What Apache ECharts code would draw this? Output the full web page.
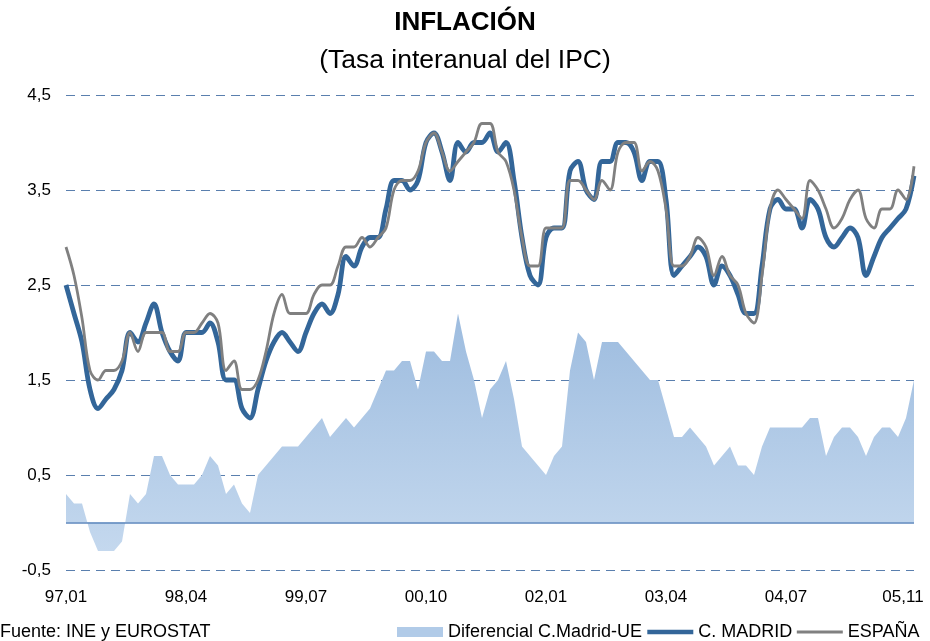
<!DOCTYPE html>
<html>
<head>
<meta charset="utf-8">
<title>Inflación</title>
<script src="https://cdn.jsdelivr.net/npm/echarts@6/dist/echarts.min.js"></script>
<style>
  html, body { margin: 0; padding: 0; background: #fff; }
  #main { width: 930px; height: 641px; }
</style>
</head>
<body>
<div id="main"></div>
<script>
// meses 97.01 .. 05.11
var meses = [];
for (var y = 1997; y <= 2005; y++) {
  for (var m = 1; m <= 12; m++) {
    if (y === 2005 && m > 11) break;
    meses.push(String(y).slice(2) + "." + (m < 10 ? "0" + m : m));
  }
}

// etiquetas visibles
var xTickLabels = ["97,01", "98,04", "99,07", "00,10", "02,01", "03,04", "04,07", "05,11"];
var yTickLabels = ["-0,5", "0,5", "1,5", "2,5", "3,5", "4,5"];

// Diferencial C.Madrid-UE
var diferencial = [
  0.3, 0.2, 0.2, -0.1, -0.3, -0.3, -0.3, -0.2, 0.3, 0.2,
  0.3, 0.7, 0.7, 0.5, 0.4, 0.4, 0.4, 0.5, 0.7, 0.6,
  0.3, 0.4, 0.2, 0.1, 0.5, 0.6, 0.7, 0.8, 0.8, 0.8,
  0.9, 1.0, 1.1, 0.9, 1.0, 1.1, 1.0, 1.1, 1.2, 1.4,
  1.6, 1.6, 1.7, 1.7, 1.4, 1.8, 1.8, 1.7, 1.7, 2.2,
  1.8, 1.5, 1.1, 1.4, 1.5, 1.7, 1.3, 0.8, 0.7, 0.6,
  0.5, 0.7, 0.8, 1.6, 2.0, 1.9, 1.5, 1.9, 1.9, 1.9,
  1.8, 1.7, 1.6, 1.5, 1.5, 1.2, 0.9, 0.9, 1.0, 0.9,
  0.8, 0.6, 0.7, 0.8, 0.6, 0.6, 0.5, 0.8, 1.0, 1.0,
  1.0, 1.0, 1.0, 1.1, 1.1, 0.7, 0.9, 1.0, 1.0, 0.9,
  0.7, 0.9, 1.0, 1.0, 0.9, 1.1, 1.5
];

// C. MADRID
var madrid = [
  2.5, 2.2, 1.9, 1.4, 1.2, 1.3, 1.4, 1.6, 2.0, 1.9,
  2.1, 2.3, 2.0, 1.8, 1.7, 2.0, 2.0, 2.0, 2.1, 1.9,
  1.5, 1.5, 1.2, 1.1, 1.4, 1.7, 1.9, 2.0, 1.9, 1.8,
  2.0, 2.2, 2.3, 2.2, 2.4, 2.8, 2.7, 2.9, 3.0, 3.0,
  3.3, 3.6, 3.6, 3.5, 3.6, 4.0, 4.1, 3.9, 3.6, 4.0,
  3.9, 4.0, 4.0, 4.1, 3.9, 4.0, 3.6, 3.0, 2.6, 2.5,
  3.0, 3.1, 3.1, 3.7, 3.8, 3.5, 3.4, 3.8, 3.8, 4.0,
  4.0, 3.9, 3.6, 3.8, 3.8, 3.4, 2.6, 2.7, 2.8, 2.9,
  2.8, 2.5, 2.7, 2.6, 2.4, 2.2, 2.2, 2.7, 3.3, 3.4,
  3.3, 3.3, 3.1, 3.4, 3.3, 3.0, 2.9, 3.0, 3.1, 3.0,
  2.6, 2.8, 3.0, 3.1, 3.2, 3.3, 3.65
];

// ESPAÑA
var espana = [
  2.9, 2.6, 2.15, 1.6, 1.5, 1.6, 1.6, 1.7, 2.0, 1.8,
  2.0, 2.0, 2.0, 1.8, 1.8, 2.0, 2.0, 2.1, 2.2, 2.1,
  1.6, 1.7, 1.4, 1.4, 1.5, 1.8, 2.2, 2.4, 2.2, 2.2,
  2.2, 2.4, 2.5, 2.5, 2.7, 2.9, 2.9, 3.0, 2.9, 3.0,
  3.1, 3.5, 3.6, 3.6, 3.7, 4.0, 4.1, 3.9, 3.7, 3.8,
  3.9, 4.0, 4.2, 4.2, 3.9, 3.8, 3.5, 3.0, 2.7, 2.7,
  3.1, 3.1, 3.1, 3.6, 3.6, 3.5, 3.4, 3.6, 3.5, 3.9,
  4.0, 4.0, 3.7, 3.8, 3.7, 3.3, 2.7, 2.7, 2.8, 3.0,
  2.9, 2.6, 2.8, 2.6, 2.5, 2.2, 2.1, 2.6, 3.3, 3.5,
  3.4, 3.3, 3.2, 3.6, 3.5, 3.3, 3.1, 3.2, 3.4, 3.5,
  3.2, 3.1, 3.3, 3.3, 3.5, 3.4, 3.75
];

var fuente = "'Liberation Sans', Arial, sans-serif";

function coma(v) {
  return String(v).replace(".", ",");
}

var myChart = echarts.init(document.getElementById("main"));

var option = {
  animation: false,
  backgroundColor: "#ffffff",
  textStyle: { fontFamily: fuente, color: "#000" },
  title: [
    {
      text: "INFLACIÓN",
      left: "center",
      top: 10,
      padding: 0,
      textStyle: { fontSize: 26, fontWeight: "bold", color: "#000", fontFamily: fuente },
    },
    {
      text: "(Tasa interanual del IPC)",
      left: "center",
      top: 47,
      padding: 0,
      textStyle: { fontSize: 26.5, fontWeight: "normal", color: "#000", fontFamily: fuente },
    },
    {
      text: "Fuente: INE y EUROSTAT",
      left: 0,
      top: 623,
      padding: 0,
      textStyle: { fontSize: 18, fontWeight: "normal", color: "#000", fontFamily: fuente },
    },
  ],
  legend: {
    left: 397,
    top: 623,
    padding: 0,
    itemWidth: 46,
    itemHeight: 10,
    itemGap: 3,
    selectedMode: false,
    textStyle: { fontSize: 18, color: "#000", fontFamily: fuente },
    data: [
      { name: "Diferencial C.Madrid-UE", icon: "rect" },
      // sin marcador en la leyenda de las líneas
      { name: "C. MADRID", itemStyle: { opacity: 0 }, lineStyle: { width: 4.5 } },
      { name: "ESPAÑA", itemStyle: { opacity: 0 }, lineStyle: { width: 3 } },
    ],
  },
  grid: {
    left: 66,
    right: 16,
    top: 95,
    height: 475,
  },
  xAxis: {
    type: "category",
    data: meses,
    boundaryGap: false,
    axisLine: { show: false },
    axisTick: { show: false },
    splitLine: { show: false },
    axisLabel: {
      margin: 19,
      fontSize: 17,
      color: "#000",
      interval: function (idx, val) {
        return xTickLabels.indexOf(coma(val)) >= 0;
      },
      formatter: function (val) {
        var s = coma(val);
        //la última etiqueta va algo desplazada a la izquierda
        if (s === xTickLabels[xTickLabels.length - 1]) return "{ult|" + s + "}";
        return s;
      },
      rich: {
        ult: { fontSize: 17, color: "#000", fontFamily: fuente, padding: [0, 22, 0, 0] },
      },
    },
  },
  yAxis: {
    type: "value",
    min: -0.5,
    max: 4.5,
    interval: 0.5,
    axisLine: { show: false },
    axisTick: { show: false },
    axisLabel: {
      margin: 15,
      fontSize: 17,
      color: "#000",
      formatter: function (v) {
        var s = coma(v.toFixed(1));
        return yTickLabels.indexOf(s) >= 0 ? s : "";
      },
    },
    splitLine: {
      show: true,
      lineStyle: {
        // sólo las líneas de ,5
        color: ["#5a7fae", "rgba(0,0,0,0)"],
        type: [9, 6],
        width: 1,
      },
    },
  },
  series: [
    {
      name: "Diferencial C.Madrid-UE",
      type: "line",
      data: diferencial,
      symbol: "none",
      color: "#b1cbe8",
      lineStyle: { width: 0 },
      areaStyle: {
        opacity: 1,
        color: new echarts.graphic.LinearGradient(0, 0, 0, 1, [
          { offset: 0, color: "#9dbcdf" },
          { offset: 1, color: "#c4d8ee" },
        ]),
      },
      markLine: {
        silent: true,
        symbol: ["none", "none"],
        label: { show: false },
        lineStyle: { type: "solid", color: "#5b86bd", width: 1.5 },
        data: [{ yAxis: 0 }],
      },
      z: 1,
    },
    {
      name: "C. MADRID",
      type: "line",
      data: madrid,
      symbol: "none",
      smooth: 0.35,
      color: "#336699",
      lineStyle: { width: 4.8, color: "#336699" },
      z: 3,
    },
    {
      name: "ESPAÑA",
      type: "line",
      data: espana,
      symbol: "none",
      smooth: 0.35,
      color: "#808080",
      lineStyle: { width: 2.8, color: "#808080" },
      z: 4,
    },
  ],
};

myChart.setOption(option);
</script>
</body>
</html>
